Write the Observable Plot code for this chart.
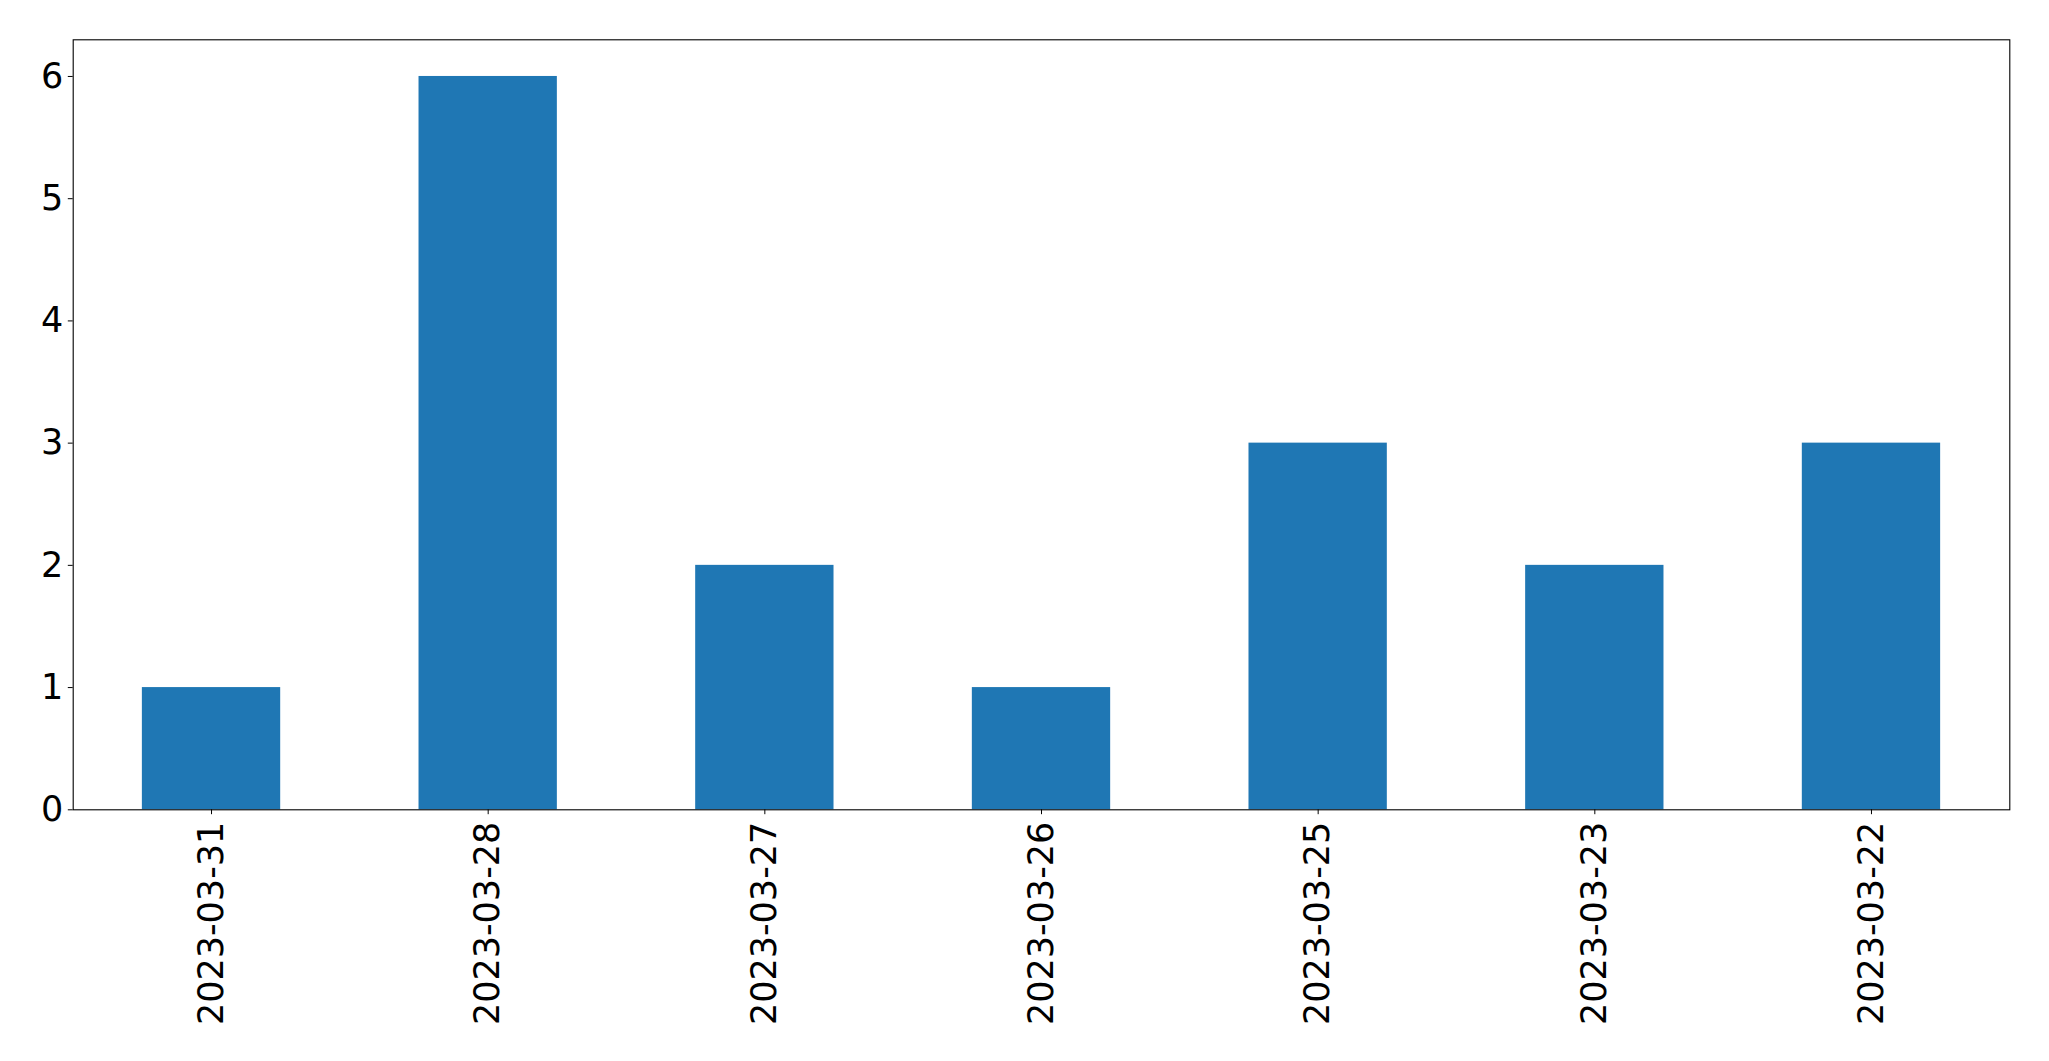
<!DOCTYPE html>
<html>
<head>
<meta charset="utf-8">
<script src="https://cdn.jsdelivr.net/npm/d3@7"></script>
<script src="https://cdn.jsdelivr.net/npm/@observablehq/plot@0.6"></script>
<style>
  html, body { margin: 0; padding: 0; background: #fff; }
  #chart svg { display: block; }
  #chart svg text { font-size: 35px; }
</style>
</head>
<body>
<div id="chart"></div>
<script>
const dates = ["2023-03-31", "2023-03-28", "2023-03-27", "2023-03-26", "2023-03-25", "2023-03-23", "2023-03-22"];
const counts = [1, 6, 2, 1, 3, 2, 3];
const yTicks = [0, 1, 2, 3, 4, 5, 6];

const data = dates.map((d, i) => ({date: d, count: counts[i]}));

const chart = Plot.plot({
  width: 2049,
  height: 1061,
  marginLeft: 72.7,
  marginRight: 39.7,
  marginTop: 39.3,
  marginBottom: 251.7,
  style: {fontFamily: "DejaVu Sans", fontSize: "35px", color: "black", background: "white"},
  x: {domain: dates, paddingInner: 0.5, paddingOuter: 0.25, round: false, label: null},
  y: {domain: [0, 6.3], label: null},
  marks: [
    Plot.barY(data, {x: "date", y: "count", fill: "#1f77b4", inset: 0}),
    Plot.frame({stroke: "black", strokeWidth: 1.1}),
    Plot.axisY({ticks: yTicks, tickSize: 4.9, tickPadding: 5, tickFormat: d3.format("d"), label: null, fontSize: 35}),
    Plot.axisX({tickSize: 4.9, tickPadding: 7, tickRotate: -90, label: null, fontSize: 35})
  ]
});
document.getElementById("chart").appendChild(chart);
</script>
</body>
</html>
